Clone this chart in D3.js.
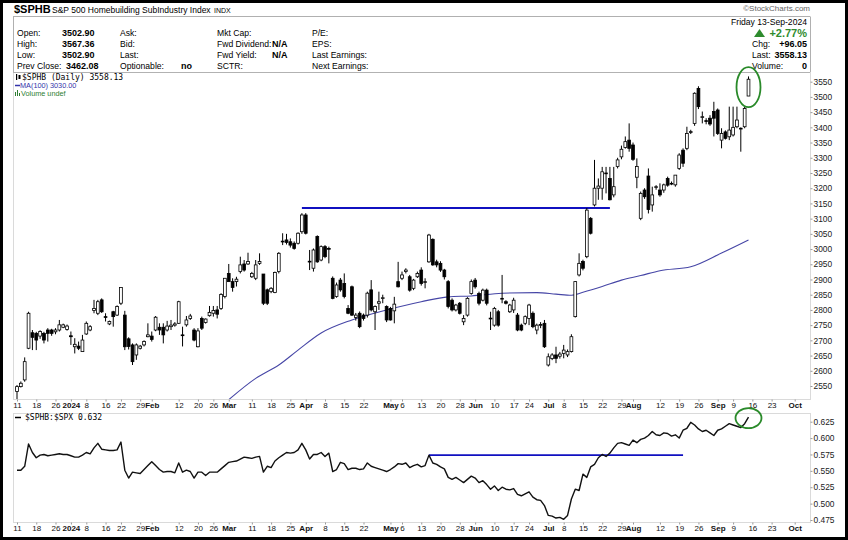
<!DOCTYPE html>
<html><head><meta charset="utf-8">
<script src="https://cdn.jsdelivr.net/npm/d3@7"></script>
<style>
body{margin:0;background:#fff}
svg{display:block;font-family:"Liberation Sans",Arial,sans-serif}
</style>
</head><body>
<svg id="c" width="848" height="540"></svg>
<script>
// ---------- DATA ----------
const holidays = ["2023-12-25","2024-01-01","2024-01-15","2024-02-19","2024-03-29","2024-05-27","2024-06-19","2024-07-04","2024-09-02"];
const firstCandle = "2023-12-11";
// daily candles [open, high, low, close], one per trading day from Dec 11 2023 to Sep 13 2024
const candles = [
[2532,2553,2504,2548],[2548,2565,2545,2559],[2570,2644,2564,2630],[2674,2794,2671,2789],[2725,2734,2668,2710],
[2723,2728,2668,2701],[2714,2733,2705,2729],[2723,2728,2690,2701],[2734,2740,2696,2723],[2734,2738,2715,2723],
[2728,2740,2720,2734],[2734,2767,2729,2751],[2743,2755,2740,2751],[2736,2752,2732,2747],[2715,2729,2685,2712],
[2679,2707,2657,2687],[2681,2696,2668,2674],[2663,2718,2663,2701],[2721,2762,2718,2756],[2734,2750,2730,2745],
[2798,2833,2789,2805],[2789,2833,2783,2827],[2833,2838,2790,2794],[2778,2789,2762,2777],[2754,2765,2750,2762],
[2794,2797,2745,2778],[2783,2815,2780,2811],[2822,2874,2816,2874],[2783,2797,2668,2679],[2705,2710,2670,2680],
[2685,2690,2619,2630],[2652,2690,2636,2685],[2674,2685,2670,2681],[2685,2700,2680,2696],[2712,2756,2710,2718],
[2714,2729,2696,2703],[2734,2780,2730,2776],[2743,2756,2718,2734],[2743,2756,2690,2718],[2734,2764,2729,2747],
[2745,2767,2734,2750],[2750,2760,2745,2754],[2756,2830,2754,2827],[2718,2745,2680,2717],[2751,2780,2745,2767],
[2772,2787,2767,2780],[2734,2740,2697,2701],[2679,2740,2677,2731],[2772,2778,2734,2740],[2759,2772,2755,2770],
[2781,2813,2778,2792],[2789,2813,2778,2798],[2800,2813,2772,2786],[2805,2855,2800,2851],[2844,2904,2838,2904],
[2920,2951,2893,2893],[2893,2904,2860,2874],[2893,2909,2877,2901],[2926,2975,2920,2948],[2951,2964,2926,2931],
[2951,2988,2948,2959],[2909,2925,2905,2920],[2904,2964,2898,2948],[2953,2986,2948,2959],[2918,2918,2816,2822],
[2866,2870,2816,2822],[2860,2875,2855,2871],[2857,2926,2855,2923],[2926,2990,2920,2986],[3024,3052,3013,3026],
[3030,3050,3015,3022],[3024,3035,3005,3013],[3019,3025,2998,3002],[3019,3055,3015,3052],[3057,3118,3050,3112],
[3112,3118,3048,3052],[2960,2997,2931,2958],[2937,3002,2926,2997],[3041,3045,2955,2958],[2964,3012,2960,3008],
[3008,3013,2970,2975],[3002,3008,2953,3000],[2904,2910,2835,2838],[2844,2890,2840,2882],[2898,2905,2860,2866],
[2887,2920,2838,2844],[2805,2816,2786,2789],[2876,2880,2780,2783],[2775,2790,2765,2783],[2789,2795,2740,2745],
[2783,2788,2765,2772],[2783,2860,2775,2855],[2866,2898,2795,2800],[2794,2815,2734,2811],[2822,2860,2800,2827],
[2838,2850,2822,2840],[2811,2815,2760,2767],[2805,2810,2765,2767],[2797,2843,2756,2819],[2893,2958,2874,2876],
[2904,2926,2898,2915],[2926,2937,2920,2931],[2909,2915,2860,2865],[2871,2902,2865,2898],[2909,2926,2905,2920],
[2931,2940,2880,2887],[2893,2904,2871,2893],[2958,3050,2955,3046],[3032,3035,2945,2948],[2958,2965,2940,2948],
[2953,2960,2925,2931],[2931,2935,2900,2909],[2893,2898,2805,2811],[2832,2838,2795,2800],[2800,2820,2795,2816],
[2822,2826,2785,2789],[2761,2783,2750,2772],[2783,2842,2778,2838],[2854,2900,2850,2893],[2898,2905,2870,2876],
[2854,2860,2815,2822],[2832,2870,2828,2865],[2865,2870,2815,2822],[2773,2794,2734,2772],[2750,2810,2745,2805],
[2794,2800,2745,2750],[2838,2915,2822,2838],[2827,2832,2818,2822],[2794,2820,2790,2816],[2800,2840,2790,2832],
[2783,2790,2730,2734],[2750,2755,2730,2734],[2756,2782,2750,2778],[2772,2820,2750,2816],[2789,2795,2740,2745],
[2734,2755,2720,2750],[2750,2760,2740,2752],[2756,2767,2675,2679],[2619,2657,2614,2646],[2640,2658,2635,2652],
[2652,2679,2625,2641],[2648,2662,2640,2655],[2657,2685,2641,2668],[2652,2670,2645,2663],[2663,2720,2660,2712],
[2778,2895,2775,2893],[2915,2986,2910,2953],[2959,2965,2930,2937],[2975,3135,2970,3128],[3101,3105,3048,3052],
[3145,3293,3140,3200],[3200,3232,3162,3207],[3200,3270,3162,3254],[3249,3270,3183,3250],[3232,3270,3160,3162],
[3178,3270,3170,3205],[3271,3300,3265,3293],[3303,3340,3295,3328],[3334,3370,3330,3353],[3358,3413,3320,3331],
[3342,3350,3290,3295],[3236,3298,3200,3271],[3101,3189,3095,3183],[3194,3200,3165,3172],[3240,3265,3117,3130],
[3145,3205,3123,3178],[3205,3210,3195,3205],[3194,3216,3172,3178],[3194,3215,3185,3211],[3232,3238,3205,3210],
[3216,3222,3210,3216],[3211,3243,3205,3243],[3265,3315,3260,3309],[3325,3331,3270,3282],[3331,3402,3325,3380],
[3385,3392,3378,3386],[3413,3515,3405,3512],[3528,3535,3460,3468],[3435,3452,3413,3435],[3422,3430,3410,3421],
[3430,3440,3405,3411],[3452,3484,3370,3430],[3457,3462,3375,3380],[3358,3397,3331,3380],[3385,3390,3360,3364],
[3369,3468,3358,3391],[3375,3468,3370,3400],[3402,3468,3397,3424],[3397,3400,3320,3397],[3402,3468,3397,3462],
[3502.90,3567.36,3502.90,3558.13]
];
// 100-day moving average, read at [trading-day number, value]
const maPoints = [[55,2505],[62,2575],[68,2619],[73,2668],[79,2724],[87,2767],[96,2800],[105,2827],[112,2843],
[118,2846],[126,2855],[135,2857],[140,2852],[144,2848],[147,2858],[152,2877],[157,2898],[162,2913],[167,2929],
[175,2942],[183,2987],[190,3030]];
// $SPHB:$SPX ratio, one per trading day
const ratio = [
0.551,0.551,0.557,0.591,0.578,0.570,0.574,0.575,0.573,0.574,0.575,0.576,0.575,0.575,0.573,0.571,0.571,0.574,0.578,0.576,
0.585,0.592,0.583,0.582,0.581,0.581,0.582,0.594,0.551,0.539,0.548,0.547,0.546,0.552,0.558,0.564,0.558,0.552,0.548,0.549,
0.549,0.547,0.562,0.548,0.551,0.549,0.539,0.548,0.548,0.543,0.548,0.548,0.548,0.553,0.558,0.563,0.564,0.565,0.568,0.571,
0.570,0.569,0.571,0.572,0.548,0.557,0.555,0.565,0.570,0.574,0.578,0.577,0.578,0.582,0.592,0.582,0.568,0.575,0.575,0.578,
0.572,0.577,0.549,0.552,0.563,0.561,0.552,0.554,0.554,0.552,0.553,0.562,0.557,0.555,0.553,0.551,0.549,0.552,0.556,0.561,
0.560,0.562,0.555,0.558,0.560,0.556,0.558,0.574,0.562,0.560,0.556,0.553,0.540,0.537,0.540,0.536,0.532,0.537,0.542,0.539,
0.532,0.535,0.529,0.522,0.527,0.520,0.525,0.522,0.521,0.523,0.514,0.512,0.515,0.518,0.510,0.506,0.505,0.497,0.482,0.481,
0.478,0.479,0.476,0.482,0.507,0.522,0.520,0.545,0.540,0.556,0.560,0.570,0.575,0.572,0.577,0.585,0.592,0.593,0.591,0.589,
0.597,0.593,0.598,0.600,0.604,0.610,0.605,0.604,0.608,0.607,0.603,0.605,0.600,0.612,0.615,0.624,0.620,0.614,0.610,0.612,
0.608,0.604,0.612,0.614,0.618,0.622,0.620,0.618,0.616,0.622,0.632
];
const priceTicks = d3.range(2550, 3551, 50);
const ratioTicks = [0.475,0.5,0.525,0.55,0.575,0.6,0.625];
const tickDates = ["2023-12-11","2023-12-18","2023-12-26","2024-01-02","2024-01-08","2024-01-16","2024-01-22","2024-01-29","2024-02-01","2024-02-12","2024-02-20","2024-02-26","2024-03-01","2024-03-11","2024-03-18","2024-03-25","2024-04-01","2024-04-08","2024-04-15","2024-04-22","2024-05-01","2024-05-06","2024-05-13","2024-05-20","2024-05-28","2024-06-03","2024-06-10","2024-06-17","2024-06-24","2024-07-01","2024-07-08","2024-07-15","2024-07-22","2024-07-29","2024-08-01","2024-08-12","2024-08-19","2024-08-26","2024-09-03","2024-09-09","2024-09-16","2024-09-23","2024-10-01"];
const tickLabels = ["11","18","26","2024","8","16","22","29","Feb","12","20","26","Mar","11","18","25","Apr","8","15","22","May","6","13","20","28","Jun","10","17","24","Jul","8","15","22","29","Aug","12","19","26","Sep","9","16","23","Oct"];
// annotation lines: [startDay, endDay, value]
const priceLevel = ["2024-03-28","2024-07-24",3135];
const ratioLevel = ["2024-05-15","2024-08-20",0.574];

// ---------- CALENDAR ----------
const hol = new Set(holidays);
const tradingDays = [];
for (let t = Date.UTC(2023,11,8); t <= Date.UTC(2024,9,7); t += 864e5) {
  const d = new Date(t), wd = d.getUTCDay(), s = d.toISOString().slice(0,10);
  if (wd > 0 && wd < 6 && !hol.has(s)) tradingDays.push(s);
}
const start = tradingDays.indexOf(firstCandle);
const candleDays = tradingDays.slice(start, start + candles.length);

// ---------- LAYOUT ----------
const svg = d3.select("#c");
const SANS = "Liberation Sans, Arial, sans-serif", MONO = "DejaVu Sans Mono, monospace";
const L = 13, R = 810;
const top1 = 72, bot1 = 399, top2 = 413, bot2 = 522;
const x = d3.scalePoint().domain(tradingDays).range([L + 0.15, R + 0.1]);
const yP = d3.scaleLinear().domain([2550, 3550]).range([386, 81.7]);
const yR = d3.scaleLinear().domain([0.475, 0.625]).range([520, 421.7]);

svg.append("rect").attr("width",848).attr("height",540).attr("fill","#fff");

const defs = svg.append("defs");
defs.append("clipPath").attr("id","cp1").append("rect").attr("x",L).attr("y",top1).attr("width",R-L).attr("height",bot1-top1);
defs.append("clipPath").attr("id","cp2").append("rect").attr("x",L).attr("y",top2).attr("width",R-L).attr("height",bot2-top2);

// ---------- HEADER ----------
const hd = svg.append("g").style("font-family",SANS);
hd.append("text").attr("x",14).attr("y",13).attr("font-size",11).attr("font-weight","bold").text("$SPHB");
hd.append("text").attr("x",52).attr("y",13).attr("font-size",8.5).text("S&P 500 Homebuilding SubIndustry Index");
hd.append("text").attr("x",214).attr("y",13).attr("font-size",7).text("INDX");
hd.append("text").attr("x",810).attr("y",11).attr("font-size",8).attr("fill","#666").attr("text-anchor","end").text("\u00A9StockCharts.com");
hd.append("line").attr("x1",L).attr("x2",R).attr("y1",16.5).attr("y2",16.5).attr("stroke","#b0b0b0");
hd.append("line").attr("x1",L).attr("x2",R).attr("y1",top1+0.5).attr("y2",top1+0.5).attr("stroke","#b0b0b0");

const rowsY = [36, 47, 58, 69];
const col = (xx, arr, bold, fs) => arr.forEach((t,i)=> { if(t) hd.append("text").attr("x",xx).attr("y",rowsY[i]).attr("font-size",fs||8.6).attr("font-weight",bold?"bold":"normal").text(t); });
col(17, ["Open:","High:","Low:","Prev Close:"]);
col(62, ["3502.90","3567.36","3502.90",""], true, 9);
hd.append("text").attr("x",66).attr("y",rowsY[3]).attr("font-size",9).attr("font-weight","bold").text("3462.08");
col(120, ["Ask:","Bid:","Last:","Optionable:"]);
col(181, ["","","","no"], true, 9);
col(217, ["Mkt Cap:","Fwd Dividend:","Fwd Yield:","SCTR:"]);
col(272, ["","N/A","N/A",""], true, 9);
col(312, ["P/E:","EPS:","Last Earnings:","Next Earnings:"]);

hd.append("text").attr("x",807).attr("y",25).attr("font-size",8.6).attr("text-anchor","end").text("Friday  13-Sep-2024");
hd.append("text").attr("x",807).attr("y",37).attr("font-size",11).attr("font-weight","bold").attr("fill","#2e8b2e").attr("text-anchor","end").text("+2.77%");
hd.append("path").attr("d","M754,37 L759.5,29 L765,37 Z").attr("fill","#2e8b2e");
hd.append("text").attr("x",752).attr("y",47).attr("font-size",8.6).text("Chg:");
hd.append("text").attr("x",807).attr("y",47).attr("font-size",9).attr("font-weight","bold").attr("text-anchor","end").text("+96.05");
hd.append("text").attr("x",752).attr("y",58).attr("font-size",8.6).text("Last:");
hd.append("text").attr("x",807).attr("y",58).attr("font-size",9).attr("font-weight","bold").attr("text-anchor","end").text("3558.13");
hd.append("text").attr("x",752).attr("y",69).attr("font-size",8.6).text("Volume:");
hd.append("text").attr("x",807).attr("y",69).attr("font-size",9).attr("font-weight","bold").attr("text-anchor","end").text("0");

// ---------- PANEL BORDERS ----------
const border = (y0,y1) => svg.append("rect").attr("x",L+0.5).attr("y",y0+0.5).attr("width",R-L).attr("height",y1-y0)
  .attr("fill","none").attr("stroke","#b5b5b5").attr("stroke-dasharray","1,1");
border(top1, bot1); border(top2, bot2);
svg.append("line").attr("x1",L+0.5).attr("x2",L+0.5).attr("y1",16.5).attr("y2",top1).attr("stroke","#b0b0b0");
svg.append("line").attr("x1",R+0.5).attr("x2",R+0.5).attr("y1",16.5).attr("y2",top1).attr("stroke","#b0b0b0");

// ---------- AXES ----------
const styleAxis = g => { g.select(".domain").remove(); g.selectAll("line").attr("stroke","#999");
  g.selectAll("text").attr("font-size",8.4).attr("fill","#222").attr("font-family",SANS); };
svg.append("g").attr("transform",`translate(${R+0.5},0)`).call(d3.axisRight(yP).tickValues(priceTicks).tickSize(2).tickPadding(1).tickFormat(d3.format("d"))).call(styleAxis);
svg.append("g").attr("transform",`translate(${R+0.5},0)`).call(d3.axisRight(yR).tickValues(ratioTicks).tickSize(2).tickPadding(1).tickFormat(d3.format(".3f"))).call(styleAxis);

const xAxis = (yy) => {
  const g = svg.append("g").attr("transform",`translate(0,${yy})`)
    .call(d3.axisBottom(x).tickValues(tickDates).tickSize(2).tickPadding(1).tickFormat((d,i)=>tickLabels[i]));
  g.select(".domain").remove();
  g.selectAll("line").attr("stroke","#999");
  g.selectAll("text").attr("font-size",8).attr("fill","#111").attr("font-family",SANS)
    .attr("font-weight",(d,i)=> /^[0-9]{1,2}$/.test(tickLabels[i]) ? "normal" : "bold");
};
xAxis(bot1 + 0.5);
xAxis(bot2 + 0.5);

// ---------- PRICE PANEL ----------
const p1 = svg.append("g").attr("clip-path","url(#cp1)");
p1.append("path").datum(maPoints)
  .attr("d", d3.line().x(d=>x(tradingDays[start + d[0]])).y(d=>yP(d[1])).curve(d3.curveMonotoneX))
  .attr("fill","none").attr("stroke","#4646a6").attr("stroke-width",1.1);
p1.append("line").attr("x1",x(priceLevel[0])).attr("x2",x(priceLevel[1])).attr("y1",yP(priceLevel[2])).attr("y2",yP(priceLevel[2]))
  .attr("stroke","#1010c0").attr("stroke-width",1.8);
const cd = candles.map((c,i)=>({d:candleDays[i],o:c[0],h:c[1],l:c[2],c:c[3]}));
const bw = 2.8;
p1.selectAll("line.wick").data(cd).join("line").attr("class","wick")
  .attr("x1",d=>x(d.d)).attr("x2",d=>x(d.d)).attr("y1",d=>yP(d.h)).attr("y2",d=>yP(d.l))
  .attr("stroke","#000").attr("stroke-width",1);
p1.selectAll("rect.body").data(cd).join("rect").attr("class","body")
  .attr("x",d=>x(d.d)-bw/2).attr("width",bw)
  .attr("y",d=>yP(Math.max(d.o,d.c))).attr("height",d=>Math.max(0.8, Math.abs(yP(d.o)-yP(d.c))))
  .attr("fill",d=>d.c>=d.o?"#fff":"#000").attr("stroke","#000").attr("stroke-width",0.8);
const last = cd[cd.length-1];
svg.append("ellipse").attr("cx",x(last.d)).attr("cy",yP((last.h+last.l)/2)+1).attr("rx",12).attr("ry",20)
  .attr("fill","none").attr("stroke","#2a8a2a").attr("stroke-width",1.8);

// legend
const lg = svg.append("g");
lg.append("rect").attr("x",16).attr("y",74).attr("width",1.2).attr("height",6).attr("fill","#000");
lg.append("rect").attr("x",18.5).attr("y",75).attr("width",2).attr("height",4).attr("fill","#000");
lg.append("text").attr("x",22).attr("y",80).style("font-family",MONO).style("font-size","8px").text("$SPHB (Daily) 3558.13");
lg.append("line").attr("x1",15).attr("x2",20).attr("y1",85.5).attr("y2",85.5).attr("stroke","#3333aa").attr("stroke-width",1.5);
lg.append("text").attr("x",20).attr("y",88).style("font-family",SANS).style("font-size","7.3px").attr("fill","#3333aa").text("MA(100) 3030.00");
lg.append("rect").attr("x",15).attr("y",92).attr("width",1).attr("height",4).attr("fill","#2e7d32");
lg.append("rect").attr("x",17).attr("y",90).attr("width",1).attr("height",6).attr("fill","#2e7d32");
lg.append("rect").attr("x",19).attr("y",93).attr("width",1).attr("height",3).attr("fill","#2e7d32");
lg.append("text").attr("x",21).attr("y",96).style("font-family",SANS).style("font-size","7.3px").attr("fill","#2e7d32").text("Volume undef");

// ---------- RATIO PANEL ----------
const p2 = svg.append("g").attr("clip-path","url(#cp2)");
p2.append("line").attr("x1",x(ratioLevel[0])).attr("x2",x(ratioLevel[1])).attr("y1",yR(ratioLevel[2])).attr("y2",yR(ratioLevel[2]))
  .attr("stroke","#1010c0").attr("stroke-width",1.8);
p2.append("path").datum(ratio)
  .attr("d", d3.line().x((d,i)=>x(candleDays[i])).y(d=>yR(d)))
  .attr("fill","none").attr("stroke","#111").attr("stroke-width",1.4).attr("stroke-linejoin","round");
svg.append("ellipse").attr("cx",x(last.d)).attr("cy",yR(ratio[ratio.length-1])+1).attr("rx",13).attr("ry",10)
  .attr("fill","none").attr("stroke","#2a8a2a").attr("stroke-width",1.8);
svg.append("line").attr("x1",15).attr("x2",21).attr("y1",417.5).attr("y2",417.5).attr("stroke","#000").attr("stroke-width",1.5);
svg.append("text").attr("x",25).attr("y",420).style("font-family",MONO).style("font-size","8px").text("$SPHB:$SPX 0.632");

// outer frame
svg.append("rect").attr("x",1.5).attr("y",1.5).attr("width",845).attr("height",537).attr("fill","none").attr("stroke","#000").attr("stroke-width",3);
</script>
</body></html>
